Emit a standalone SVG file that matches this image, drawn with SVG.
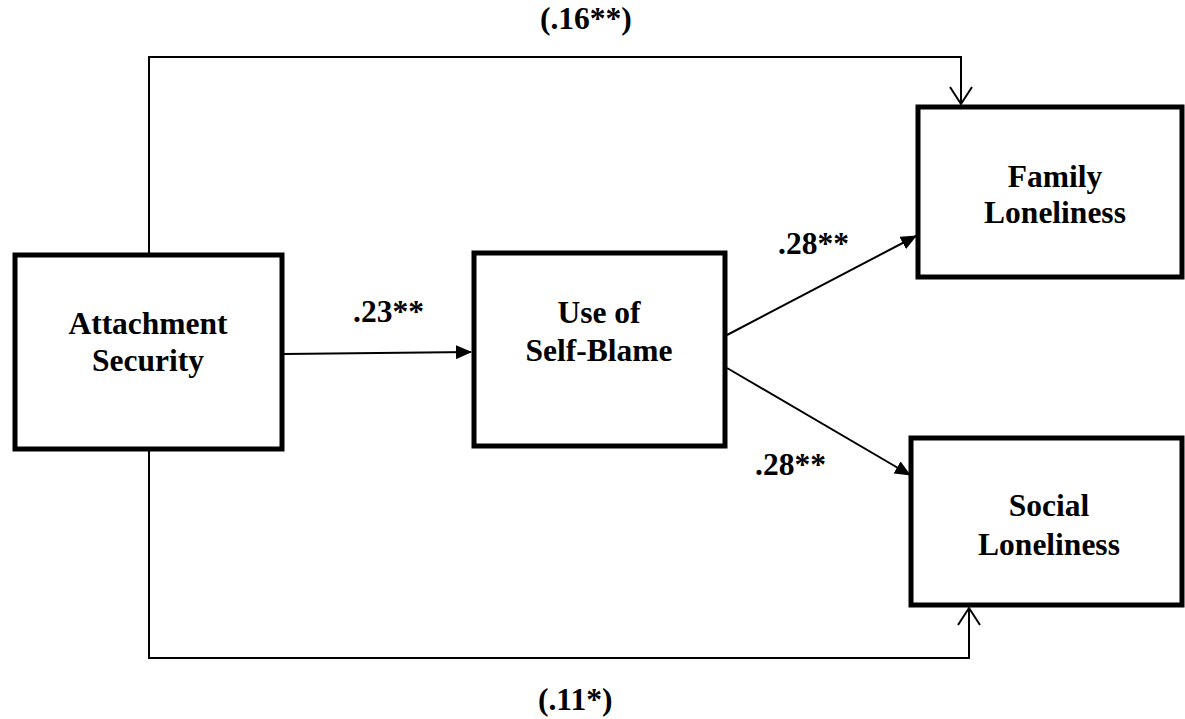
<svg xmlns="http://www.w3.org/2000/svg" width="1185" height="719" viewBox="0 0 1185 719">
<style>
.box{fill:#fff;stroke:#000;stroke-width:5}
.ln{fill:none;stroke:#000;stroke-width:2}
.t{font-family:"Liberation Serif","Times New Roman",serif;font-weight:bold;font-size:31.5px;fill:#000;text-anchor:middle}
.lb{font-family:"Liberation Serif","Times New Roman",serif;font-weight:bold;font-size:31.5px;fill:#000}
</style>
<defs>
<marker id="filled" markerWidth="16" markerHeight="14" refX="15" refY="7" orient="auto" markerUnits="userSpaceOnUse">
<path d="M0,0 L16,7 L0,14 Z" fill="#000"/>
</marker>
<marker id="open" markerWidth="22" markerHeight="26" refX="19" refY="13" orient="auto" markerUnits="userSpaceOnUse">
<path d="M2,2 L19,13 L2,24" fill="none" stroke="#000" stroke-width="2"/>
</marker>
</defs>
<g id="connectors">
<path class="ln" d="M149,253 V57 H961 V104" marker-end="url(#open)"/>
<path class="ln" d="M149,451 V658 H969 V608" marker-end="url(#open)"/>
<path class="ln" d="M284,354 L471,352" marker-end="url(#filled)"/>
<path class="ln" d="M727,335 L916,236" marker-end="url(#filled)"/>
<path class="ln" d="M727,368 L910,475" marker-end="url(#filled)"/>
</g>
<g id="labels">
<text class="lb" x="540" y="29">(.16**)</text>
<text class="lb" x="353" y="322">.23**</text>
<text class="lb" x="778" y="254">.28**</text>
<text class="lb" x="755" y="475">.28**</text>
<text class="lb" x="538" y="710">(.11*)</text>
</g>
<g id="attachment">
<rect class="box" x="15" y="255" width="267" height="194"/>
<text class="t" x="148" y="334">Attachment</text>
<text class="t" x="148" y="371">Security</text>
</g>
<g id="selfblame">
<rect class="box" x="474" y="253" width="251" height="193"/>
<text class="t" x="599" y="323">Use of</text>
<text class="t" x="599" y="361">Self-Blame</text>
</g>
<g id="family">
<rect class="box" x="918" y="107" width="264" height="170"/>
<text class="t" x="1055" y="187">Family</text>
<text class="t" x="1055" y="223">Loneliness</text>
</g>
<g id="social">
<rect class="box" x="911" y="438" width="271" height="167"/>
<text class="t" x="1049" y="516">Social</text>
<text class="t" x="1049" y="555">Loneliness</text>
</g>
</svg>
